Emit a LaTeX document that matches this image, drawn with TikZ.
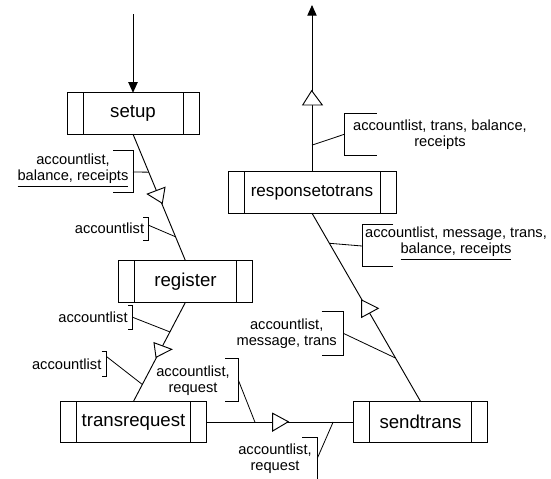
\documentclass[tikz,border=0pt]{standalone}
\usepackage{fontspec}
\setmainfont{Liberation Sans}
\usetikzlibrary{arrows.meta}
\begin{document}
\begin{tikzpicture}[x=0.75pt,y=-0.75pt,
  proc/.style={draw=black, line width=0.7pt, rectangle, minimum height=31pt, inner sep=0pt, outer sep=0pt,
    font=\fontsize{14}{16}\selectfont,
    path picture={\draw[line width=0.7pt]
      ([xshift=12pt]path picture bounding box.north west) -- ([xshift=12pt]path picture bounding box.south west)
      ([xshift=-12pt]path picture bounding box.north east) -- ([xshift=-12pt]path picture bounding box.south east);}},
  conn/.style={line width=0.7pt, draw=black},
  tie/.style={line width=0.6pt, draw=black},
  lbl/.style={font=\fontsize{11}{12}\selectfont, align=center, inner sep=0pt},
  marker/.style={draw=black, fill=white, line width=0.7pt, line join=miter},
  arr/.style={-{Triangle[length=8pt,width=7pt]}}
]
\useasboundingbox (0,0) rectangle (551,479);
\fill[white] (0,0) rectangle (551,479);

% process boxes
\node[proc, minimum width=99pt] (setup) at (133,113.5) {setup};
\node[proc, minimum width=100pt] (register) at (185.5,281.5) {register};
\node[proc, minimum width=109pt] (transreq) at (133.5,422) {transrequest};
\node[proc, minimum width=100pt] (sendtrans) at (420.5,422) {sendtrans};
\node[proc, minimum width=126pt, font=\fontsize{12.8}{14}\selectfont] (resp) at (312,192.5) {responsetotrans};

\coordinate (in) at (133,14);
\coordinate (out) at (312,5);

% connectors
\draw[conn,arr] (in) -- (setup.north);
\draw[conn] (setup.south) -- (register.north) coordinate[pos=0.30] (p1) coordinate[pos=0.81] (p2);
\draw[conn] (register.south) -- (transreq.north) coordinate[pos=0.30] (p3) coordinate[pos=0.83] (p4);
\draw[conn] (transreq.east) -- (sendtrans.west) coordinate[pos=0.33] (p5) coordinate[pos=0.86] (p6);
\draw[conn] (sendtrans.north) -- (resp.south) coordinate[pos=0.23] (p7) coordinate[pos=0.84] (p8);
\draw[conn,arr] (resp.north) -- (out) coordinate[pos=0.16] (p9);

% direction markers
\draw[marker] (147.3,194) -- (165,187.3) -- (162.3,203.3) -- cycle;
\draw[marker] (154,342.7) -- (171.7,349.3) -- (156,357.3) -- cycle;
\draw[marker] (272.7,413.3) -- (288.3,421.7) -- (272.7,431) -- cycle;
\draw[marker] (361.7,300) -- (378.3,308.3) -- (361.7,317.3) -- cycle;
\draw[marker] (302.7,105) -- (311.7,90.7) -- (322.3,105) -- cycle;

% labels
\node[lbl] (l1) at (73,170.5) {accountlist,\\\underline{balance, receipts}};
\draw[tie] (113,150) -- (133,150) -- (133,192.3) -- (113,192.3);
\draw[tie] (133,172) -- (p1);

\node[lbl] (l2) at (109.5,228) {accountlist};
\draw[tie] (143,217) -- (148,217) -- (148,240) -- (143,240);
\draw[tie] (148,225) -- (p2);

\node[lbl] (l3) at (93,317.3) {accountlist};
\draw[tie] (128,305) -- (132.7,305) -- (132.7,329.3) -- (128,329.3);
\draw[tie] (132.7,317.3) -- (p3);

\node[lbl] (l4) at (66.7,364) {accountlist};
\draw[tie] (101.7,351.7) -- (106.7,351.7) -- (106.7,376.7) -- (101.7,376.7);
\draw[tie] (106.7,356.7) -- (p4);

\node[lbl] (l5) at (193,381) {accountlist,\\request};
\draw[tie] (225,358.3) -- (238.3,358.3) -- (238.3,401.7) -- (225,401.7);
\draw[tie] (238.3,380) -- (p5);

\node[lbl] (l6) at (275,458.5) {accountlist,\\request};
\draw[tie] (302,437) -- (317.3,437) -- (317.3,480);
\draw[tie] (317.3,458.3) -- (p6);

\node[lbl] (l7) at (286.7,334.2) {accountlist,\\message, trans};
\draw[tie] (321.7,311.7) -- (343.3,311.7) -- (343.3,355) -- (321.7,355);
\draw[tie] (343.3,333.3) -- (p7);

\node[lbl] (l8) at (456,243.5) {accountlist, message, trans,\\\underline{balance, receipts}};
\draw[tie] (393.3,224.5) -- (362,224.5) -- (362,266.7) -- (393.3,266.7);
\draw[tie] (362,246) -- (p8);

\node[lbl] (l9) at (440,135) {accountlist, trans, balance,\\receipts};
\draw[tie] (376.7,113.3) -- (344.3,113.3) -- (344.3,155.7) -- (376.7,155.7);
\draw[tie] (344.3,134.3) -- (p9);
\end{tikzpicture}
\end{document}
